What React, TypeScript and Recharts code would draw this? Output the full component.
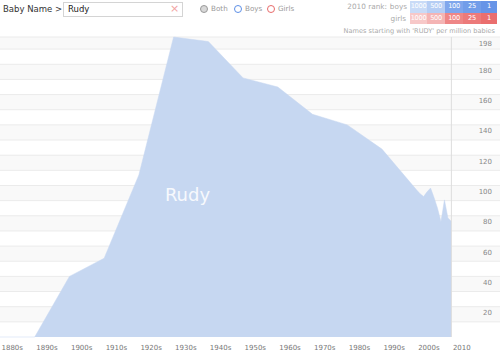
import React from 'react';
import { AreaChart, Area, XAxis, YAxis, CartesianGrid, ReferenceLine, ReferenceDot } from 'recharts';

const years = [1880, 1890, 1900, 1910, 1920, 1930, 1940, 1950, 1960, 1970, 1980, 1990, 2000, 2001, 2002, 2003, 2004, 2005, 2006, 2007, 2008, 2009, 2010];
const rudyValues = [0, 0, 40, 52, 107, 198, 195, 171, 165, 147, 140, 124, 97, 94.5, 92.7, 95.8, 98.3, 92, 85, 76, 90.5, 78.6, 76.3];
const xTicks = [1880, 1890, 1900, 1910, 1920, 1930, 1940, 1950, 1960, 1970, 1980, 1990, 2000, 2010];
const xTickLabels = ['1880s', '1890s', '1900s', '1910s', '1920s', '1930s', '1940s', '1950s', '1960s', '1970s', '1980s', '1990s', '2000s', '2010'];
const yTicks = [20, 40, 60, 80, 100, 120, 140, 160, 180, 198];
const gridValues = [10, 20, 30, 40, 50, 60, 70, 80, 90, 100, 110, 120, 130, 140, 150, 160, 170, 180, 190, 198];
const rankLabels = ['1000', '500', '100', '25', '1'];
const boyRankColors = ['#c9dbf7', '#b5cdf4', '#7fa6ec', '#729de9', '#6794e7'];
const girlRankColors = ['#f7c8c8', '#f4b4b4', '#ee8686', '#ec7a7a', '#ea6e6e'];

const data = years.map((y, i) => ({ year: y, value: rudyValues[i] }));

const FONT = '"DejaVu Sans", Verdana, sans-serif';

const XTick = (props: any) => {
  const { x, y, payload } = props;
  const idx = xTicks.indexOf(payload.value);
  return (
    <text x={x + 1.5} y={y + 11} textAnchor="start" dominantBaseline="central" fontSize={7} fill="#777" fontFamily={FONT}>
      {xTickLabels[idx]}
    </text>
  );
};

const YTick = (props: any) => {
  const { y, payload, viewBox } = props;
  const right = viewBox ? viewBox.x + viewBox.width : 500;
  return (
    <text x={492} y={y + 6.5} textAnchor="end" dominantBaseline="central" fontSize={7} fill="#888" fontFamily={FONT}>
      {payload.value}
    </text>
  );
};

const Radio = ({ left, border, fill, label }: { left: number; border: string; fill: string; label: string }) => (
  <>
    <div style={{ position: 'absolute', left, top: 5, width: 6, height: 6, borderRadius: 5, border: `1.3px solid ${border}`, background: fill }} />
    <div style={{ position: 'absolute', left: left + 11, top: 4, fontSize: 7.2, color: '#999', fontFamily: FONT, lineHeight: '9px' }}>{label}</div>
  </>
);

export default function App() {
  const boxLefts = [410, 427, 445, 463, 481];
  const boxWidths = [17, 18, 18, 18, 16];
  return (
    <div style={{ position: 'absolute', left: 0, top: 0, width: 500, height: 355, background: '#fff', fontFamily: FONT, overflow: 'hidden' }}>
      <div style={{ position: 'absolute', left: 0, top: 0 }}>
        <AreaChart width={500} height={355} data={data} margin={{ top: 37, right: 0, bottom: 0, left: 0 }}>
          <CartesianGrid
            horizontal
            vertical={false}
            horizontalValues={gridValues}
            stroke="#ebebeb"
            horizontalFill={['#f9f9f9', '#ffffff']}
          />
          <XAxis
            dataKey="year"
            type="number"
            domain={[1880, 2024]}
            ticks={xTicks}
            height={18}
            tickSize={0}
            tickMargin={0}
            axisLine={false}
            tickLine={false}
            tick={<XTick />}
            interval={0}
            allowDataOverflow
          />
          <YAxis
            orientation="right"
            mirror
            width={30}
            domain={[0, 198]}
            ticks={yTicks}
            tickSize={0}
            tickMargin={0}
            axisLine={false}
            tickLine={false}
            tick={<YTick />}
            interval={0}
          />
          <ReferenceLine x={2010} stroke="#dddddd" />
          <Area
            type="linear"
            dataKey="value"
            stroke="#c6d7f1"
            strokeWidth={0.5}
            fill="#c6d7f1"
            fillOpacity={1}
            isAnimationActive={false}
            dot={false}
            activeDot={false}
          />
          <ReferenceDot
            x={1934}
            y={94}
            r={0}
            fill="none"
            stroke="none"
            label={{ value: 'Rudy', position: 'center', fill: '#f7f9fd', fontSize: 18, fontFamily: FONT }}
          />
        </AreaChart>
      </div>

      {/* header */}
      <div style={{ position: 'absolute', left: 3, top: 4, fontSize: 8.5, color: '#333', lineHeight: '10px' }}>Baby Name &gt;</div>
      <div style={{ position: 'absolute', left: 63, top: 2, width: 118, height: 13, border: '1px solid #d4d4d4', background: '#fff' }} />
      <div style={{ position: 'absolute', left: 68, top: 4, fontSize: 8.5, color: '#222', lineHeight: '10px' }}>Rudy</div>
      <div style={{ position: 'absolute', left: 170, top: 2, fontSize: 11, color: '#f2a3a3', lineHeight: '13px' }}>×</div>

      <Radio left={200} border="#9a9a9a" fill="#d8d8d8" label="Both" />
      <Radio left={234} border="#5d8fe6" fill="#fff" label="Boys" />
      <Radio left={267} border="#e86a6a" fill="#fff" label="Girls" />

      <div style={{ position: 'absolute', left: 330, width: 57, textAlign: 'right', top: 2, fontSize: 7.3, color: '#aaa', lineHeight: '10px' }}>2010 rank:</div>
      <div style={{ position: 'absolute', left: 380, width: 27, textAlign: 'right', top: 2, fontSize: 7.3, color: '#aaa', lineHeight: '10px' }}>boys</div>
      <div style={{ position: 'absolute', left: 380, width: 26, textAlign: 'right', top: 14, fontSize: 7.3, color: '#aaa', lineHeight: '10px' }}>girls</div>
      {rankLabels.map((r, i) => (
        <div key={'b' + r} style={{ position: 'absolute', left: boxLefts[i], top: 1, width: boxWidths[i], height: 11.5, background: boyRankColors[i], color: '#fff', fontSize: 6.6, letterSpacing: -0.3, textAlign: 'center', lineHeight: '11.5px', overflow: 'hidden', whiteSpace: 'nowrap' }}>{r}</div>
      ))}
      {rankLabels.map((r, i) => (
        <div key={'g' + r} style={{ position: 'absolute', left: boxLefts[i], top: 13, width: boxWidths[i], height: 11, background: girlRankColors[i], color: '#fff', fontSize: 6.6, letterSpacing: -0.3, textAlign: 'center', lineHeight: '11px', overflow: 'hidden', whiteSpace: 'nowrap' }}>{r}</div>
      ))}
      <div style={{ position: 'absolute', right: 5, top: 27, fontSize: 6.6, color: '#aaa', lineHeight: '9px', whiteSpace: 'nowrap' }}>Names starting with 'RUDY' per million babies</div>
    </div>
  );
}
